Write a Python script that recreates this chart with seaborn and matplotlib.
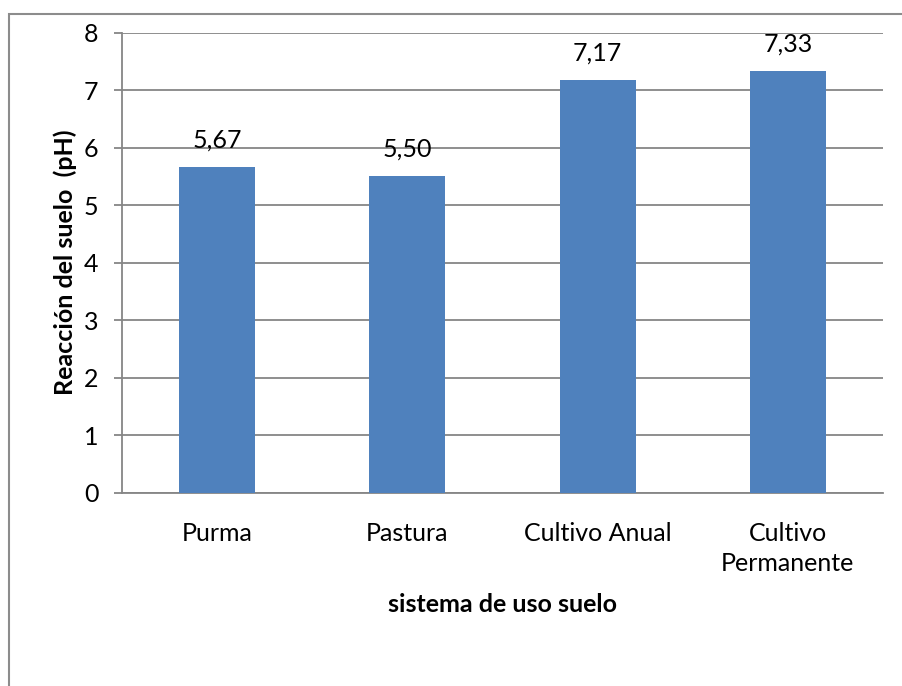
import matplotlib
matplotlib.use("Agg")
import matplotlib.pyplot as plt
import seaborn as sns
import pandas as pd
from matplotlib.patches import Rectangle

# Soil pH by land-use system
sistemas = ["Purma", "Pastura", "Cultivo Anual", "Cultivo\nPermanente"]
ph = [5.67, 5.50, 7.17, 7.33]
yticks = [0, 1, 2, 3, 4, 5, 6, 7, 8]

sns.set_theme(style="white")
plt.rcParams["font.family"] = ["Lato", "DejaVu Sans"]

FS = 18
W, H = 902, 686
fig = plt.figure(figsize=(W / 100, H / 100), dpi=100)
ax = fig.add_axes([122 / W, 1 - 492.7 / H, (883 - 122) / W, (492.7 - 32.5) / H])

df = pd.DataFrame({"sistema": sistemas, "ph": ph})
sns.barplot(data=df, x="sistema", y="ph", color="#4F81BD", width=0.4,
            saturation=1, linewidth=0, ax=ax, zorder=3)

grid_c = "#868686"
ax.set_ylim(0, 8)
ax.set_xlim(-0.5, 3.5)
ax.set_yticks(yticks)
ax.yaxis.grid(True, color=grid_c, linewidth=1.3, zorder=0)
ax.set_axisbelow(True)
for s in ["top", "right"]:
    ax.spines[s].set_visible(False)
for s in ["left", "bottom"]:
    ax.spines[s].set_color(grid_c)
    ax.spines[s].set_linewidth(1.3)
ax.tick_params(axis="y", which="major", direction="out", length=6,
               width=1.3, color=grid_c, labelsize=FS, pad=11, left=True)
ax.tick_params(axis="x", length=0, labelsize=FS, pad=21)
for t in ax.get_yticklabels():
    t.set_color("black")
for t in ax.get_xticklabels():
    t.set_color("black")
    t.set_linespacing(1.38)

# value labels in Spanish decimal notation
for i, v in enumerate(ph):
    ax.annotate(f"{v:.2f}".replace(".", ","), xy=(i, v), xytext=(0, 14),
                textcoords="offset points", ha="center", va="baseline",
                fontsize=FS, color="black")

ax.set_xlabel("sistema de uso suelo", fontsize=FS, fontweight="bold",
              color="black", labelpad=13)
ax.set_ylabel("Reacción del suelo  (pH)", fontsize=FS, fontweight="bold",
              color="black", labelpad=5)

# chart frame
fig.patches.append(Rectangle((8.5 / W, -0.1), 1.2, 1 - 13.5 / H + 0.1,
                             transform=fig.transFigure, fill=False,
                             edgecolor="#8c8c8c", linewidth=1.5))

fig.savefig("out.png", dpi=100)
